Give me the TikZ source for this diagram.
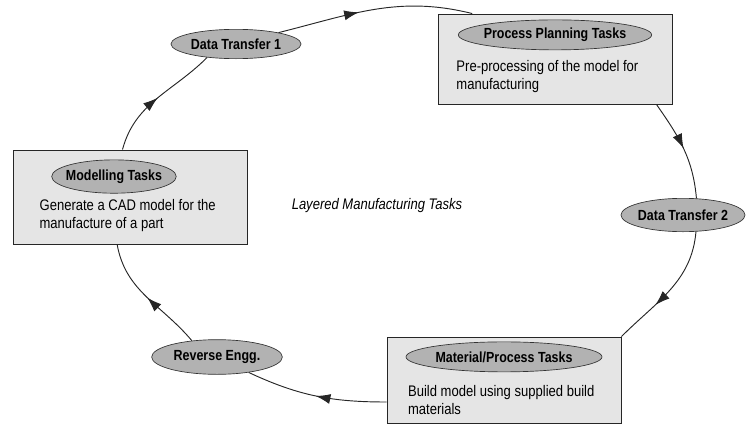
\documentclass[tikz,border=0pt]{standalone}
\usepackage{fontspec}
\setsansfont[FakeStretch=0.85]{Liberation Sans}
\usepackage{tikz}
\usetikzlibrary{positioning,arrows.meta,shapes.geometric,decorations.markings}

\begin{document}
\begin{tikzpicture}[x=0.75pt, y=0.75pt, font=\sffamily,
	taskbox/.style={draw=black!85, line width=0.7pt, fill=black!10, minimum width=175.5pt, inner sep=0pt},
	tag/.style={ellipse, draw=black!80, line width=0.5pt, fill=black!30, inner xsep=-3pt, inner ysep=0pt, font=\sffamily\bfseries\fontsize{11}{13}\selectfont},
	body/.style={align=left, inner sep=0pt, font=\sffamily\fontsize{11.5}{13.5}\selectfont},
	flow/.style={draw=black!85, line width=0.7pt, postaction={decorate}, decoration={markings, mark=at position #1 with {\arrow{Latex[length=11pt,width=7.5pt]}}}},
	flow/.default=0.5]
		\useasboundingbox (0,0) rectangle (746,-425);
		\node[taskbox, minimum height=67.5pt] (plan) at (555,-59) {};
		\node[tag, minimum width=145pt, minimum height=22.5pt, below=4.5pt of plan.north] (plantag) {Process Planning Tasks};
		\node[body, below right=35pt and 14pt of plan.north west] (plantext) {Pre-processing of the model for\\manufacturing};
		\node[taskbox, minimum width=176pt, minimum height=70.5pt] (model) at (130.5,-197) {};
		\node[tag, minimum width=84pt, minimum height=25pt, below=7.5pt of model.north, xshift=-12.4pt] (modeltag) {Modelling Tasks};
		\node[body, below right=37pt and 20pt of model.north west] (modeltext) {Generate a CAD model for the\\manufacture of a part};
		\node[taskbox, minimum height=64.5pt] (mat) at (504,-380) {};
		\node[tag, minimum width=147pt, minimum height=22.5pt, below=3.75pt of mat.north] (mattag) {Material/Process Tasks};
		\node[body, below right=36.5pt and 16pt of mat.north west] (mattext) {Build model using supplied build\\materials};
		\node[tag, minimum width=97.5pt, minimum height=22pt] (dtone) at (236,-44) {Data Transfer 1};
		\node[tag, minimum width=93pt, minimum height=25pt] (dttwo) at (683,-215) {Data Transfer 2};
		\node[tag, minimum width=98pt, minimum height=26pt] (rev) at (217,-357) {Reverse Engg.};
		\node[font=\sffamily\itshape\fontsize{11.5}{13}\selectfont] (title) at (377,-206) {Layered Manufacturing Tasks};
		\draw[flow] ([xshift=-6pt]model.north) to[out=75, in=225] (dtone.205);
		\draw[flow=0.42] (dtone.15) to[out=14, in=166] ([xshift=26pt]plan.north west);
		\draw[flow] ([xshift=-12pt]plan.south east) to[out=-55, in=95] (dttwo.51);
		\draw[flow=0.65] (dttwo.-52) to[out=-95, in=45] (mat.north east);
		\draw[flow] ([yshift=-16.5pt]mat.west) to[out=180, in=-25] (rev.-26);
		\draw[flow] (rev.147) to[out=130, in=-80] ([xshift=-10pt]model.south);
	\end{tikzpicture}
\end{document}
